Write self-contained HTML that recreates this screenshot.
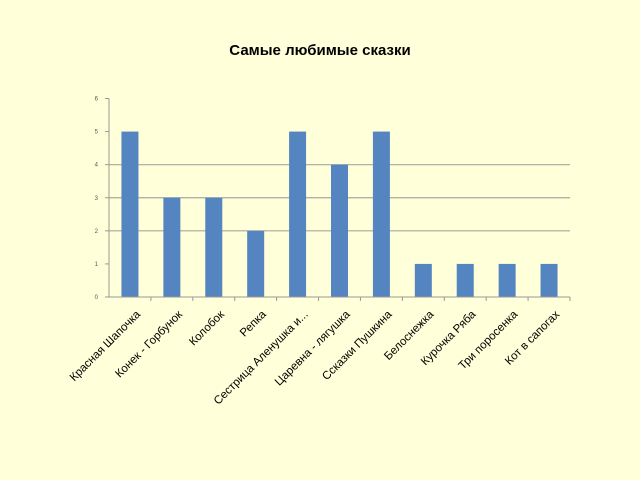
<!DOCTYPE html>
<html><head><meta charset="utf-8"><style>
html,body{margin:0;padding:0;background:#ffffd9;}
svg{display:block;font-family:"Liberation Sans","DejaVu Sans",sans-serif;}
</style></head><body>
<svg width="640" height="480">
<rect width="640" height="480" fill="#ffffd9"/>
<text x="320" y="55" text-anchor="middle" font-size="15" font-weight="bold" fill="#000">Самые любимые сказки</text>
<g id="plot"></g>
</svg>
<script>
const categories=["Красная Шапочка","Конек - Горбунок","Колобок","Репка","Сестрица Аленушка и...","Царевна - лягушка","Ссказки Пушкина","Белоснежка","Курочка Ряба","Три поросенка","Кот в сапогах"];
const values=[5,3,3,2,5,4,5,1,1,1,1];
const yTicks=[0,1,2,3,4,5,6];
const gridVals=[2,3,4];
const NS="http://www.w3.org/2000/svg";
const g=document.getElementById('plot');
const x0=109,x1=570,y0=297,yTop=98.5,yMax=6;
const step=(x1-x0)/categories.length;
const yS=v=>y0-(y0-yTop)*v/yMax;
const xC=i=>x0+step*(i+0.5);
function mk(t,a){const e=document.createElementNS(NS,t);for(const k in a)e.setAttribute(k,a[k]);g.appendChild(e);return e;}
gridVals.forEach(v=>{
const l=mk('line',{x1:x0,x2:x1,y1:yS(v),y2:yS(v),stroke:'#a8a8a0','stroke-width':1.2});


});
yTicks.forEach(v=>{
const t=mk('text',{x:x0-11,y:yS(v)+2,'font-size':6,'text-anchor':'end',fill:'#555'});t.textContent=v;


const tk=mk('line',{x1:x0-4,x2:x0,y1:yS(v),y2:yS(v),stroke:'#999'});


});
values.forEach((v,i)=>{
const r=mk('rect',{x:xC(i)-8.5,y:yS(v),width:17,height:y0-yS(v),fill:'#5585c0'});


});
const ya=mk('line',{x1:x0,x2:x0,y1:yTop,y2:y0,stroke:'#999'});


const xa=mk('line',{x1:x0-4,x2:x1,y1:y0,y2:y0,stroke:'#999'});


categories.forEach((c,i)=>{
const xt=x0+step*(i+1);
const tk=mk('line',{x1:xt,x2:xt,y1:y0,y2:y0+4,stroke:'#999'});


const cx=xC(i)+11,cy=y0+18;
const t=mk('text',{x:cx,y:cy,'font-size':11.5,'text-anchor':'end',fill:'#000',transform:`rotate(-45 ${cx} ${cy})`});
t.textContent=c;


});
</script>
</body></html>
